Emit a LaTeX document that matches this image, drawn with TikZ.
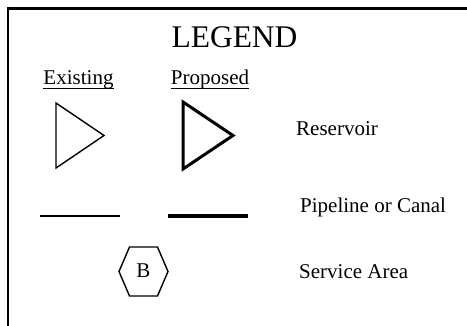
\documentclass[tikz,border=0pt]{standalone}
\usepackage{fontspec}
\setmainfont{Liberation Serif}
\begin{document}
\begin{tikzpicture}[x=1pt,y=-1pt,
    frame/.style={line width=2.5pt},
    thinsym/.style={line width=1.4pt},
    thicksym/.style={line width=3pt},
    lbl/.style={anchor=base west,inner sep=0pt,font=\fontsize{21}{25}\selectfont},
    head/.style={anchor=base,inner sep=0pt,font=\fontsize{21}{25}\selectfont}]
    \useasboundingbox (0,0) rectangle (467,326);
    % frame, cut off on the right and bottom
    \draw[frame] (8,326)--(8,8.5)--(467,8.5);
    \node[anchor=base,inner sep=0pt,font=\fontsize{31.5}{38}\selectfont] (title) at (234.5,48) {LEGEND};
    \node[head] (exist) at (78.5,85) {Existing};
    \node[head] (prop) at (210,85) {Proposed};
    \draw[line width=0.9pt] ([yshift=-3pt]exist.base west)--([yshift=-3pt]exist.base east);
    \draw[line width=0.9pt] ([yshift=-3pt]prop.base west)--([yshift=-3pt]prop.base east);
    % reservoir
    \draw[thinsym,line join=miter] (56,103)--(104,135.5)--(56,168)--cycle;
    \draw[thicksym,line join=miter] (183,102)--(233,135.5)--(183,169)--cycle;
    \node[lbl] (res) at (296,136) {Reservoir};
    % pipeline
    \draw[thinsym] (40,216)--(120,216);
    \draw[line width=3.5pt] (168,216)--(248,216);
    \node[lbl] (pipe) at (300,213) {Pipeline or Canal};
    % service area
    \draw[thinsym] (119,271.5)--(129.5,247)--(157.5,247)--(168,271.5)--(157.5,296)--(129.5,296)--cycle;
    \node[head] (b) at (143.5,278) {B};
    \node[lbl] (serv) at (299,279) {Service Area};
\end{tikzpicture}
\end{document}
